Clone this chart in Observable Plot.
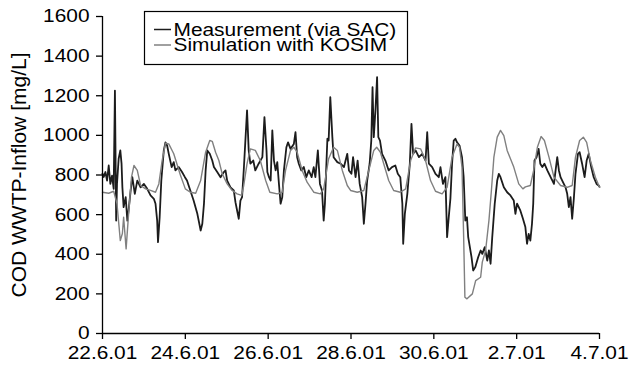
<!DOCTYPE html>
<html><head><meta charset="utf-8">
<script src="https://cdn.jsdelivr.net/npm/d3@7"></script>
<script src="https://cdn.jsdelivr.net/npm/@observablehq/plot@0.6"></script>
<style>
html,body{margin:0;padding:0;background:#fff;}
</style></head><body><div id="chart"></div>
<script>
// x positions are days after 22.6.01 00:00
const xTickLabels = ["22.6.01","24.6.01","26.6.01","28.6.01","30.6.01","2.7.01","4.7.01"];
const xTickDays = [0,2,4,6,8,10,12];
const yTicks = [0,200,400,600,800,1000,1200,1400,1600];
const seriesNames = ["Measurement (via SAC)","Simulation with KOSIM"];
const yLabel = "COD WWTP-Inflow [mg/L]";

const measDay = [0.00,0.03,0.07,0.11,0.15,0.19,0.23,0.27,0.30,0.33,0.35,0.39,0.43,0.46,0.48,0.51,0.56,0.60,0.63,0.68,0.72,0.78,0.84,0.92,1.00,1.08,1.16,1.24,1.28,1.32,1.34,1.38,1.42,1.48,1.52,1.56,1.60,1.67,1.72,1.76,1.84,1.92,1.99,2.04,2.12,2.20,2.29,2.37,2.41,2.45,2.49,2.53,2.59,2.65,2.69,2.77,2.85,2.93,2.97,3.01,3.09,3.17,3.21,3.25,3.29,3.33,3.37,3.41,3.45,3.49,3.53,3.57,3.64,3.69,3.77,3.86,3.91,3.96,3.98,4.02,4.06,4.10,4.14,4.18,4.22,4.26,4.30,4.34,4.38,4.44,4.48,4.54,4.62,4.66,4.70,4.74,4.80,4.86,4.92,4.98,5.05,5.10,5.14,5.20,5.25,5.30,5.34,5.37,5.40,5.43,5.46,5.50,5.55,5.58,5.67,5.75,5.83,5.91,5.95,6.01,6.05,6.11,6.16,6.21,6.27,6.31,6.35,6.39,6.45,6.49,6.52,6.55,6.59,6.63,6.66,6.70,6.75,6.83,6.91,6.99,7.07,7.13,7.19,7.24,7.26,7.30,7.36,7.42,7.46,7.50,7.56,7.64,7.72,7.80,7.84,7.88,7.96,8.04,8.12,8.16,8.22,8.28,8.32,8.36,8.40,8.44,8.48,8.52,8.56,8.62,8.68,8.72,8.76,8.80,8.83,8.87,8.91,8.95,9.00,9.07,9.13,9.17,9.23,9.29,9.33,9.37,9.41,9.47,9.53,9.57,9.61,9.69,9.77,9.85,9.93,9.97,10.01,10.09,10.15,10.21,10.25,10.29,10.33,10.37,10.40,10.43,10.48,10.53,10.57,10.62,10.67,10.74,10.82,10.90,10.94,10.98,11.02,11.06,11.10,11.18,11.22,11.26,11.30,11.34,11.38,11.42,11.48,11.52,11.58,11.64,11.69,11.74,11.80,11.86,11.93,11.98,12.00];
const measValue = [807,790,815,772,848,755,797,730,1226,570,755,882,924,857,738,638,688,570,621,722,789,705,772,738,755,730,697,680,655,570,461,587,772,924,965,949,907,840,865,823,840,815,789,772,722,671,604,520,554,655,823,924,907,873,840,815,789,815,823,772,738,722,663,621,579,671,688,823,974,1126,924,857,873,823,857,890,1092,924,815,789,772,1025,873,823,865,755,655,688,823,940,965,932,957,1016,890,857,823,840,789,823,789,840,789,924,755,722,570,655,823,983,974,1193,991,890,865,857,840,907,823,806,890,789,873,755,688,554,655,772,857,974,1243,991,1126,1294,991,974,907,873,823,840,848,806,789,655,453,604,705,857,1058,907,924,890,907,873,1016,857,840,806,789,840,755,789,486,587,680,857,974,983,965,949,890,789,570,587,486,436,385,318,335,385,419,402,436,368,419,352,486,655,772,806,789,738,713,697,671,604,655,620,580,537,453,503,469,554,655,873,890,932,857,840,857,823,789,755,823,890,823,789,772,738,705,638,688,579,680,806,907,915,857,789,873,907,840,789,755,747,740];

const simDay = [0.00,0.15,0.27,0.35,0.43,0.48,0.51,0.57,0.63,0.70,0.76,0.84,0.92,1.04,1.16,1.28,1.36,1.44,1.52,1.60,1.72,1.88,2.00,2.12,2.25,2.37,2.49,2.59,2.65,2.73,2.81,2.89,3.01,3.13,3.25,3.36,3.41,3.49,3.57,3.69,3.81,3.94,4.04,4.22,4.34,4.42,4.54,4.62,4.70,4.82,4.94,5.10,5.26,5.34,5.46,5.58,5.67,5.79,5.91,5.99,6.15,6.31,6.43,6.55,6.62,6.71,6.79,6.91,7.03,7.19,7.32,7.44,7.56,7.68,7.80,7.92,8.04,8.20,8.32,8.44,8.56,8.62,8.68,8.72,8.75,8.80,8.93,9.01,9.13,9.17,9.25,9.33,9.39,9.45,9.53,9.61,9.69,9.77,9.93,10.05,10.15,10.21,10.33,10.41,10.50,10.59,10.67,10.78,10.90,11.06,11.22,11.34,11.42,11.52,11.61,11.69,11.78,11.90,12.00];
const simValue = [713,708,718,655,469,505,587,427,604,789,848,823,747,730,722,713,755,873,960,957,907,800,730,713,708,772,915,974,970,915,873,806,755,722,705,697,747,857,932,924,873,772,713,705,713,823,924,940,915,823,764,713,705,730,882,940,924,823,747,722,713,722,823,924,940,915,857,772,722,713,730,873,937,932,873,772,718,705,738,890,957,940,840,486,183,175,200,267,284,360,419,570,722,890,991,1025,999,924,840,755,730,740,747,823,940,994,974,890,789,747,738,747,890,974,991,965,873,789,738];

const t0 = Date.UTC(2001, 5, 22);
const toDate = d => new Date(t0 + d * 86400000);
const meas = measDay.map((d, i) => ({t: toDate(d), v: measValue[i]}));
const sim = simDay.map((d, i) => ({t: toDate(d), v: simValue[i]}));
const xTicks = xTickDays.map(toDate);
const labelOf = new Map(xTicks.map((d, i) => [+d, xTickLabels[i]]));

const measColor = "#1c1c1c", simColor = "#808080";
const font = "'Liberation Sans', Arial, Helvetica, sans-serif";

const svg = Plot.plot({
  width: 629, height: 366,
  marginLeft: 102, marginRight: 30, marginTop: 16, marginBottom: 33,
  style: {fontFamily: font, fontSize: "18.5px", color: "#000", background: "#fff", overflow: "visible"},
  x: {type: "utc", domain: [toDate(0), toDate(12)]},
  y: {domain: [0, 1600]},
  marks: [
    Plot.line(meas, {x: "t", y: "v", stroke: measColor, strokeWidth: 1.8}),
    Plot.line(sim, {x: "t", y: "v", stroke: simColor, strokeWidth: 1.4}),
    Plot.ruleY([0], {stroke: "#000", strokeWidth: 1.3}),
    Plot.ruleX([toDate(0)], {stroke: "#000", strokeWidth: 1.3}),
    Plot.axisX({ticks: xTicks, tickFormat: d => labelOf.get(+d), tickSize: 6, tickPadding: 6.5, label: null, stroke: "#000", fill: "#000", strokeWidth: 1.3}),
    Plot.axisY({ticks: yTicks, tickFormat: d => String(d), tickSize: 6, tickPadding: 7, label: null, stroke: "#000", fill: "#000", strokeWidth: 1.3}),
    Plot.text([yLabel], {frameAnchor: "left", rotate: -90, dx: -83, fontSize: 21, fill: "#000", textAnchor: "middle"})
  ]
});

// stretch tick label glyphs horizontally like the reference
svg.querySelectorAll('g[aria-label$="tick label"] text').forEach(t => {
  t.setAttribute("transform", (t.getAttribute("transform") || "") + " scale(1.13,1)");
});

// legend
const s = d3.select(svg);
const lg = s.append("g").attr("font-family", font).attr("font-size", "18.5px").attr("text-anchor", "start");
lg.append("rect").attr("x", 144.5).attr("y", 11.5).attr("width", 263).attr("height", 53)
  .attr("fill", "#fff").attr("stroke", "#000").attr("stroke-width", 1.2);
const rows = [[seriesNames[0], measColor, 29.5, 35.5], [seriesNames[1], simColor, 45, 51]];
rows.forEach(([name, col, ly, ty]) => {
  lg.append("line").attr("x1", 154).attr("x2", 171).attr("y1", ly).attr("y2", ly)
    .attr("stroke", col).attr("stroke-width", 1.5);
  lg.append("text").attr("transform", `translate(173.5,${ty}) scale(1.13,1)`)
    .attr("text-anchor", "start").attr("fill", "#000").text(name);
});

document.getElementById("chart").appendChild(svg);
</script></body></html>
